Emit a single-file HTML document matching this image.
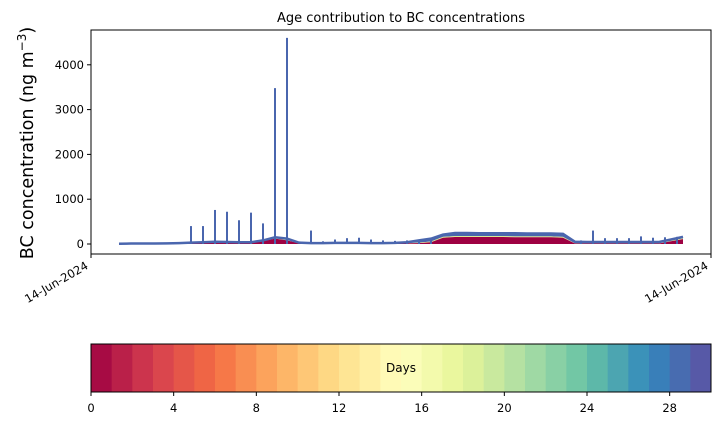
<!DOCTYPE html>
<html><head><meta charset="utf-8"><style>
body{margin:0;background:#fff;}
svg{font-family:"DejaVu Sans","Liberation Sans",sans-serif;}
</style></head><body>
<svg id="chart" width="720" height="425" viewBox="0 0 720 425" xmlns="http://www.w3.org/2000/svg">
<rect width="720" height="425" fill="#fff"/>
<text x="401" y="22" font-size="13" text-anchor="middle">Age contribution to BC concentrations</text>
<g id="plot"></g>
<rect x="91" y="30" width="620" height="224" fill="none" stroke="#000" stroke-width="1"/>
<g id="yaxis"></g>
<text transform="translate(33,143) rotate(-90)" font-size="17.5" text-anchor="middle">BC concentration (ng m<tspan font-size="12" dy="-7">−3</tspan><tspan dy="7">)</tspan></text>
<g>
<line x1="91" y1="254" x2="91" y2="258" stroke="#000"/>
<line x1="711" y1="254" x2="711" y2="258" stroke="#000"/>
<text transform="translate(89,268) rotate(-30)" font-size="11.5" text-anchor="end">14-Jun-2024</text>
<text transform="translate(709,268) rotate(-30)" font-size="11.5" text-anchor="end">14-Jun-2024</text>
</g>
<g id="cbar"></g>
<rect x="91" y="344" width="620" height="48" fill="none" stroke="#000"/>
<text x="401" y="372" font-size="12" text-anchor="middle">Days</text>
<g id="cticks"></g>
</svg>
<script>
const times=[0,12,24,36,48,60,72,84,96,108,120,132,144,156,168,180,192,204,216,228,240,252,264,276,288,300,312,324,336,348,360,372,384,396,408,420,432,444,456,468,480,492,504,516,528,540,552,564];
const totalVals=[5,10,12,12,15,20,30,40,50,45,40,40,80,150,120,30,20,20,25,25,25,20,20,25,40,80,120,210,245,245,240,240,240,240,235,235,235,225,50,45,45,45,45,45,45,45,100,160];
const freshVals=[0,2,3,3,5,10,15,20,30,25,20,25,60,120,80,15,8,8,10,10,10,8,8,10,15,20,40,140,155,155,155,155,155,150,150,150,150,140,10,10,10,10,10,10,10,10,60,110];
const midVals=[0,1,1,1,2,3,5,5,5,5,5,5,8,10,10,5,5,5,5,5,5,5,5,5,5,10,15,20,20,20,20,20,20,20,20,20,20,20,5,5,5,5,5,5,5,5,15,15];
const spikeTimes=[72,84,96,108,120,132,144,156,168,192,204,216,228,240,252,264,276,288,300,312,462,474,486,498,510,522,534,546,558];
const spikeVals=[400,400,760,720,530,700,460,3480,4600,300,60,100,130,140,100,80,70,80,90,100,80,300,130,130,130,170,140,150,160];
const yTicks=[0,1000,2000,3000,4000];
const cbTicks=[0,4,8,12,16,20,24,28];
const NS="http://www.w3.org/2000/svg";
const xS=t=>119+t;
const yS=v=>244-v*0.0448;
const cx=d=>91+d*620/30;
function mk(tag,attrs,parent){const e=document.createElementNS(NS,tag);for(const k in attrs)e.setAttribute(k,attrs[k]);parent.appendChild(e);return e;}
const plot=document.getElementById('plot');
function area(lo,hi,color,name){
  let d='M'+times.map((t,i)=>xS(t)+','+yS(hi[i])).join('L');
  for(let i=times.length-1;i>=0;i--)d+='L'+xS(times[i])+','+yS(lo[i]);
  const p=mk('path',{d:d+'Z',fill:color},plot);
  
  
}
const zeros=times.map(()=>0);
const midTop=freshVals.map((v,i)=>v+midVals[i]);
area(midTop,totalVals,'#4a66ae','aged-layer');
area(freshVals,midTop,'#d9ef8b','mid-age-layer');
area(zeros,freshVals,'#9e0142','fresh-layer');
const totalLine=mk('path',{d:'M'+times.map((t,i)=>xS(t)+','+yS(totalVals[i])).join('L'),fill:'none',stroke:'#4a66ae','stroke-width':2.5},plot);


spikeTimes.forEach((t,i)=>{
  const l=mk('line',{x1:xS(t),x2:xS(t),y1:yS(0),y2:yS(spikeVals[i]),stroke:'#4a66ae','stroke-width':2},plot);
  
  
});
const ya=document.getElementById('yaxis');
yTicks.forEach(v=>{
  mk('line',{x1:87,x2:91,y1:yS(v),y2:yS(v),stroke:'#000'},ya);
  const t=mk('text',{x:84,y:yS(v)+4,'font-size':11.5,'text-anchor':'end'},ya);
  
  
  t.textContent=v;
});
const anchors=['#9e0142','#d53e4f','#f46d43','#fdae61','#fee08b','#ffffbf','#e6f598','#abdda4','#66c2a5','#3288bd','#5e4fa2'];
function hex(h){return [1,3,5].map(i=>parseInt(h.substr(i,2),16));}
function spectral(f){const p=f*10,i=Math.min(9,Math.floor(p)),r=p-i,a=hex(anchors[i]),b=hex(anchors[i+1]);return 'rgb('+a.map((c,k)=>Math.round(c+(b[k]-c)*r)).join(',')+')';}
const cb=document.getElementById('cbar');
for(let d=0;d<30;d++){
  const r=mk('rect',{x:cx(d),y:344,width:620/30+0.5,height:48,fill:spectral((d+0.5)/30)},cb);
  
  
}
const ct=document.getElementById('cticks');
cbTicks.forEach(v=>{
  mk('line',{x1:cx(v),x2:cx(v),y1:392,y2:396,stroke:'#000'},ct);
  const t=mk('text',{x:cx(v),y:412,'font-size':11.5,'text-anchor':'middle'},ct);
  
  
  t.textContent=v;
});
</script>
</body></html>
